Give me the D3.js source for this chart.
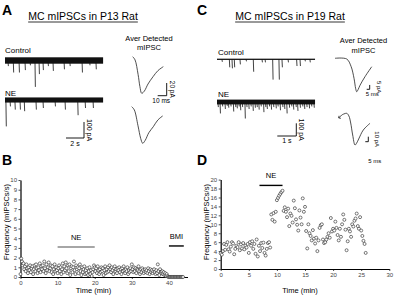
<!DOCTYPE html>
<html>
<head>
<meta charset="utf-8">
<script src="https://cdn.jsdelivr.net/npm/d3@7"></script>
<style>
	body { margin: 0; background: #fff; }
	svg { display: block; font-family: "Liberation Sans", Arial, sans-serif; }
</style>
</head>
<body>
<svg id="fig" width="400" height="297"></svg>
<script>
// ---- data ----
// B: frequency (mIPSCs/s), one bin every 0.2 min, P13
const bStep = 0.2;
const bFreq = [
	0.3, 1.9, 1.6, 1.2, 1.4, 0.8, 1.1, 0.6, 1.3, 0.9,
	0.4, 1.0, 0.7, 1.2, 0.5, 0.9, 1.1, 0.3, 0.8, 1.2,
	0.6, 1.3, 0.9, 0.4, 1.0, 0.7, 1.4, 0.5, 1.1, 0.8,
	1.2, 0.6, 1.6, 0.9, 0.4, 1.3, 0.7, 1.0, 1.5, 0.6,
	0.9, 1.2, 0.5, 1.1, 0.3, 0.8, 1.3, 0.6, 1.0, 0.7,
	0.4, 0.9, 1.2, 0.6, 1.0, 0.3, 0.8, 1.4, 0.5, 1.1,
	0.7, 1.5, 0.9, 0.4, 1.2, 0.6, 1.3, 0.2, 0.9, 1.1,
	0.5, 1.0, 1.6, 0.7, 0.3, 1.2, 0.8, 1.0, 0.4, 0.9,
	1.3, 0.6, 0.2, 1.0, 0.5, 0.8, 1.1, 0.3, 0.7, 0.4,
	0.9, 0.2, 0.6, 1.0, 0.3, 0.7, 0.1, 0.5, 0.8, 1.2,
	1.0, 0.6, 0.9, 0.4, 1.1, 0.7, 0.3, 0.8, 0.5, 1.0,
	0.6, 0.9, 0.2, 0.7, 1.1, 0.4, 0.8, 0.5, 1.0, 0.6,
	1.2, 0.8, 0.5, 1.0, 0.7, 0.3, 0.9, 1.1, 0.6, 0.8,
	0.4, 0.9, 0.7, 1.0, 0.5, 0.8, 0.3, 0.9, 0.6, 1.1,
	0.7, 0.4, 0.8, 0.6, 1.0, 0.3, 0.7, 0.5, 0.9, 0.6,
	1.3, 0.8, 0.5, 1.0, 0.6, 0.9, 0.4, 0.8, 0.7, 1.1,
	0.6, 0.3, 0.8, 0.5, 0.9, 0.7, 0.4, 0.6, 0.8, 0.5,
	0.7, 0.4, 0.9, 0.6, 0.3, 0.8, 0.5, 0.7, 0.4, 0.6,
	0.8, 0.5, 0.3, 0.7, 0.4, 1.3, 0.6, 0.2, 0.8, 0.5,
	0.4, 0.6, 0.3, 0.5, 0.2, 0.4, 0.1, 0.3, 0.1, 0.0,
	0, 0, 0, 0, 0, 0, 0, 0, 0, 0,
	0, 0, 0, 0, 0, 0, 0, 0, 0, 0
];
const bXTicks = [0, 10, 20, 30, 40];
const bYTicks = [0, 1, 2, 3, 4, 5, 6, 7, 8, 9, 10];
const bBars = [
	{ label: "NE", from: 10, to: 20, level: 3.1, color: "#888" },
	{ label: "BMI", from: 40, to: 44, level: 3.2, color: "#000" }
];

// D: frequency (mIPSCs/s), one bin every 0.2 min, P19
const dStep = 0.2;
const dFreq = [
	3.5, 3.2, 4.0, 5.6, 4.3, 5.4, 6.0, 4.4, 3.9, 5.0,
	6.0, 5.7, 3.3, 4.5, 5.2, 4.9, 6.0, 4.2, 5.5, 4.6,
	5.8, 4.4, 5.2, 4.8, 5.6, 3.6, 6.0, 5.2, 6.2, 4.5,
	5.6, 3.4, 6.6, 2.8, 5.2, 4.0, 5.8, 4.7, 5.9, 3.6,
	3.0, 4.5, 5.8, 6.0, 4.8,
	12.2, 11.0, 12.5, 10.6, 12.8,
	15.4, 15.9, 16.4, 16.8, 17.2, 17.5, 13.0,
	13.8, 12.8, 11.6, 13.5, 9.6, 12.4, 11.9, 10.4, 15.3, 13.6,
	11.1, 9.9, 8.6, 13.1, 11.5, 10.0, 15.8, 12.8, 13.9, 8.5,
	4.6, 10.0, 8.0, 7.4,
	6.4, 8.7, 6.8, 5.7, 7.0, 4.0, 6.4, 9.2, 9.8, 10.0,
	6.6, 5.8, 6.0, 6.6, 7.2, 8.0, 7.0, 11.4, 8.4, 9.0,
	8.6, 10.6, 9.2, 7.6, 6.4, 9.0, 7.2, 10.0, 12.2, 11.0,
	8.8, 4.2, 6.2, 9.0, 8.4, 7.2, 10.0, 9.5, 10.8, 11.3,
	12.4, 9.6, 9.0, 11.6, 8.6, 7.4, 6.3, 5.6, 3.6
];
const dXTicks = [0, 5, 10, 15, 20, 25, 30];
const dYTicks = [0, 2, 4, 6, 8, 10, 12, 14, 16, 18, 20];
const dBars = [{ label: "NE", from: 6.9, to: 11, level: 18.7, color: "#000" }];

// A / C raw traces: events as [time (s), amplitude (pA, inward)]
const aControlEvents = [
	[0.33, 35], [0.92, 75], [1.56, 75], [2.22, 60], [2.78, 30], [3.33, 165],
	[3.78, 85], [4.22, 60], [4.78, 35], [5.33, 65], [6.56, 55], [7.2, 35],
	[8.56, 75], [9.4, 30], [10.1, 55]
];
const aNeEvents = [
	[0.1, 165], [0.56, 40], [1.1, 60], [1.67, 60], [2.14, 70], [3.44, 60],
	[4.22, 50], [5.56, 40], [6.67, 60], [8.08, 95], [8.9, 50], [9.78, 50]
];
const cControlEvents = [
	[0.26, 20], [0.65, 63], [0.79, 71], [0.91, 63], [1.21, 40], [1.53, 16],
	[1.91, 98], [2.37, 24], [2.53, 24], [2.93, 160], [3.26, 160], [3.42, 63],
	[3.74, 24], [4.19, 53], [4.37, 53], [4.63, 16], [4.89, 24]
];
const cNeEvents = [
	[0.05, 40], [0.16, 90], [0.28, 35], [0.42, 55], [0.52, 30], [0.6, 45],
	[0.72, 35], [0.86, 75], [0.97, 40], [1.05, 50], [1.15, 35], [1.23, 65],
	[1.33, 40], [1.47, 130], [1.56, 40], [1.67, 55], [1.78, 35], [1.89, 70],
	[2.0, 45], [2.1, 40], [2.2, 60], [2.31, 35], [2.45, 80], [2.55, 40],
	[2.63, 55], [2.75, 35], [2.85, 60], [2.97, 40], [3.1, 50], [3.2, 35],
	[3.32, 65], [3.45, 40], [3.55, 55], [3.67, 90], [3.8, 45], [3.92, 35],
	[4.02, 60], [4.15, 40], [4.24, 70], [4.37, 45], [4.5, 35], [4.6, 55],
	[4.72, 40], [4.85, 50], [4.97, 35], [5.1, 45]
];

// averaged mIPSC waveforms: [time (ms), current (pA)]
const aAvgControl = [[0, 0], [2.6, -5], [6, -28], [8, -47], [10, -57.6], [13, -54], [17, -43], [22.6, -31.5], [28, -22], [34, -15.7]];
const aAvgNe = [[0, 0], [2.9, -5], [7, -30], [10, -50], [12.2, -57.6], [15, -53], [19, -41], [24, -31.5], [29, -21], [34.4, -14.6]];
const cAvgControl = [[0, 0], [19.5, -0.8], [26.7, -9.2], [31.7, -23], [34.5, -35], [36.2, -38.4], [38.5, -36], [41.7, -31], [50, -21.1], [61.2, -9.7]];
const cAvgNe = [[0, 0], [8.3, 3.4], [12, -2], [15, -16], [18.3, -40], [22.2, -60], [25, -56], [28.3, -48], [36, -30], [47.2, -16.6]];

// ---- drawing ----
const svg = d3.select("#fig");

function txt(x, y, s, size, opts = {}) {
	const t = svg.append("text")
		.attr("x", x).attr("y", y)
		.attr("font-size", size)
		.attr("fill", opts.fill || "#000")
		.attr("text-anchor", opts.anchor || "start")
		.attr("font-weight", opts.bold ? "bold" : "normal")
		.text(s);
	if (opts.rotate) t.attr("transform", `rotate(${opts.rotate},${x},${y})`);
	return t;
}

function title(cx, y, s) {
	const t = txt(cx, y, s, 10.5, { anchor: "middle" });
	const w = t.node().getComputedTextLength();
	svg.append("line")
		.attr("x1", cx - w / 2).attr("x2", cx + w / 2)
		.attr("y1", y + 2).attr("y2", y + 2)
		.attr("stroke", "#000").attr("stroke-width", 0.8);
}

// raw current trace: noise band + downward events
function trace(o) {
	const x = d3.scaleLinear().domain([0, o.dur]).range([o.x0, o.x0 + o.dur * o.pxPerS]);
	const y = d3.scaleLinear().domain([0, 100]).range([o.y0, o.y0 + o.pxPer100]);
	const g = svg.append("g");
	g.append("rect")
		.attr("x", x(0)).attr("width", x(o.dur) - x(0))
		.attr("y", y(-o.noise)).attr("height", y(o.noise) - y(-o.noise))
		.attr("fill", "#111");
	g.selectAll(".ev")
		.data(o.events)
		.join("line")
		.attr("class", "ev")
		.attr("x1", d => x(d[0])).attr("x2", d => x(d[0]) + 0.4)
		.attr("y1", y(0)).attr("y2", d => y(d[1]))
		.attr("stroke", "#111").attr("stroke-width", 0.8);
	return { x, y };
}

function avgWave(o) {
	const x = d3.scaleLinear().domain([0, 1]).range([o.x0, o.x0 + o.pxPerMs]);
	const y = d3.scaleLinear().domain([0, -1]).range([o.y0, o.y0 + o.pxPerPa]);
	svg.append("path")
		.datum(o.data)
		.attr("d", d3.line().x(d => x(d[0])).y(d => y(d[1])).curve(d3.curveCatmullRom))
		.attr("fill", "none").attr("stroke", "#222").attr("stroke-width", 0.8);
	return { x, y };
}

// L-shaped scale bar, corner at (cx, cy)
function scaleBar(cx, cy, w, h, labelV, labelH, o = {}) {
	svg.append("path")
		.attr("d", `M${cx - w},${cy}H${cx}V${cy - h}`)
		.attr("fill", "none").attr("stroke", "#000").attr("stroke-width", 0.9);
	txt(cx + (o.vdx || 2.5), cy - h / 2, labelV, o.size || 7, { anchor: "middle", rotate: 90 });
	txt(cx - w / 2 + (o.hdx || 0), cy + (o.hdy || 7.5), labelH, o.size || 7, { anchor: "middle" });
}

function scatterPanel(o) {
	const x = d3.scaleLinear().domain(o.xDomain).range(o.xRange);
	const y = d3.scaleLinear().domain(o.yDomain).range(o.yRange);
	const g = svg.append("g");

	const xa = g.append("g")
		.attr("transform", `translate(0,${o.yRange[0]})`)
		.call(d3.axisBottom(x).tickValues(o.xTicks).tickSize(2).tickSizeOuter(0).tickPadding(1.5));
	const ya = g.append("g")
		.attr("transform", `translate(${o.xRange[0]},0)`)
		.call(d3.axisLeft(y).tickValues(o.yTicks).tickSize(2).tickSizeOuter(0).tickPadding(1.5));
	[xa, ya].forEach(a => {
		a.select(".domain").attr("stroke", "#000").attr("stroke-width", 1.2);
		a.selectAll(".tick line").attr("stroke", "#000").attr("stroke-width", 0.7);
		a.selectAll(".tick text").attr("font-size", 6).attr("fill", "#444")
			.attr("font-family", "Liberation Sans, Arial, sans-serif");
	});

	g.selectAll(".pt")
		.data(o.values)
		.join("circle")
		.attr("class", "pt")
		.attr("cx", (d, i) => x(i * o.step))
		.attr("cy", d => y(d))
		.attr("r", 1.5)
		.attr("fill", "#fff").attr("stroke", "#222").attr("stroke-width", 0.6);

	o.bars.forEach(b => {
		g.append("line")
			.attr("x1", x(b.from)).attr("x2", x(b.to))
			.attr("y1", y(b.level)).attr("y2", y(b.level))
			.attr("stroke", b.color).attr("stroke-width", 1.4);
		txt((x(b.from) + x(b.to)) / 2, y(b.level) - 7, b.label, 7.5, { anchor: "middle" });
	});

	txt((o.xRange[0] + o.xRange[1]) / 2 + o.xLabelDx, 292.5, "Time (min)", 7.5, { anchor: "middle" });
	txt(o.xRange[0] - 11.5, 222, "Frequency (mIPSCs/s)", 7.5, { anchor: "middle", rotate: -90 });
}

// panel letters
txt(2, 15, "A", 14, { bold: true });
txt(197, 15, "C", 14, { bold: true });
txt(2, 165, "B", 14, { bold: true });
txt(197, 165, "D", 14, { bold: true });

// titles
title(83, 20, "MC mIPSCs in P13 Rat");
title(290, 20, "MC mIPSCs in P19 Rat");

// --- A ---
txt(5, 53, "Control", 8);
txt(5, 95.5, "NE", 8);
const aCtl = trace({ x0: 5, y0: 60.5, dur: 10.9, pxPerS: 9, pxPer100: 16, noise: 20, events: aControlEvents });
trace({ x0: 5, y0: 100, dur: 10.9, pxPerS: 9, pxPer100: 16, noise: 16, events: aNeEvents });
scaleBar(84, 138, aCtl.x(2) - aCtl.x(0), aCtl.y(100) - aCtl.y(0), "100 pA", "2 s", { vdx: 3 });

txt(149, 40.5, "Aver Detected", 7.5, { anchor: "middle" });
txt(149, 50, "mIPSC", 7.5, { anchor: "middle" });
const aw = avgWave({ x0: 132.7, y0: 56.7, pxPerMs: 0.9, pxPerPa: 0.635, data: aAvgControl });
avgWave({ x0: 131.7, y0: 106.7, pxPerMs: 0.9, pxPerPa: 0.635, data: aAvgNe });
scaleBar(166.7, 95.7, aw.x(10) - aw.x(0), aw.y(-20) - aw.y(0), "20 pA", "10 ms", { size: 6.5, vdx: 3, hdx: -1, hdy: 7 });

// --- C ---
txt(218, 55, "Control", 8);
txt(218, 96.5, "NE", 8);
const cCtl = trace({ x0: 217, y0: 59.3, dur: 5.16, pxPerS: 19, pxPer100: 12.7, noise: 5, events: cControlEvents });
trace({ x0: 217, y0: 102, dur: 5.16, pxPerS: 19, pxPer100: 12.7, noise: 19, events: cNeEvents });
scaleBar(296.3, 136, cCtl.x(1) - cCtl.x(0), cCtl.y(100) - cCtl.y(0), "100 pA", "1 s", { vdx: 3, hdy: 7 });

txt(363.5, 43.3, "Aver Detected", 7.5, { anchor: "middle" });
txt(363.5, 52.7, "mIPSC", 7.5, { anchor: "middle" });
const cw1 = avgWave({ x0: 335, y0: 58.3, pxPerMs: 0.6, pxPerPa: 0.87, data: cAvgControl });
const cw2 = avgWave({ x0: 341.7, y0: 115, pxPerMs: 0.6, pxPerPa: 0.5, data: cAvgNe });
// small arrow tick at start of the NE average
svg.append("path")
	.attr("d", `M${cw2.x(0)},${cw2.y(0)}L${cw2.x(-5)},${cw2.y(-6)}M${cw2.x(-5)},${cw2.y(-6)}l0.3,-2.2M${cw2.x(-5)},${cw2.y(-6)}l2.2,0.3`)
	.attr("fill", "none").attr("stroke", "#222").attr("stroke-width", 0.8);
scaleBar(369.7, 89.3, cw1.x(5) - cw1.x(0), cw1.y(-5) - cw1.y(0), "5 pA", "5 ms", { size: 6, vdx: 7, hdx: 4, hdy: 6.5 });
scaleBar(368.3, 141.7, cw2.x(5) - cw2.x(0), cw2.y(-10) - cw2.y(0), "10 pA", "5 ms", { size: 6, vdx: 7, hdx: 8, hdy: 21 });

// --- B ---
scatterPanel({
	xDomain: [0, 45], xRange: [20.5, 187.5],
	yDomain: [0, 10], yRange: [277, 180],
	xTicks: bXTicks, yTicks: bYTicks,
	values: bFreq, step: bStep, bars: bBars, xLabelDx: -10.5
});

// --- D ---
scatterPanel({
	xDomain: [0, 30], xRange: [220.7, 389.3],
	yDomain: [0, 20], yRange: [269, 179.6],
	xTicks: dXTicks, yTicks: dYTicks,
	values: dFreq, step: dStep, bars: dBars, xLabelDx: -5
});
</script>
</body>
</html>
